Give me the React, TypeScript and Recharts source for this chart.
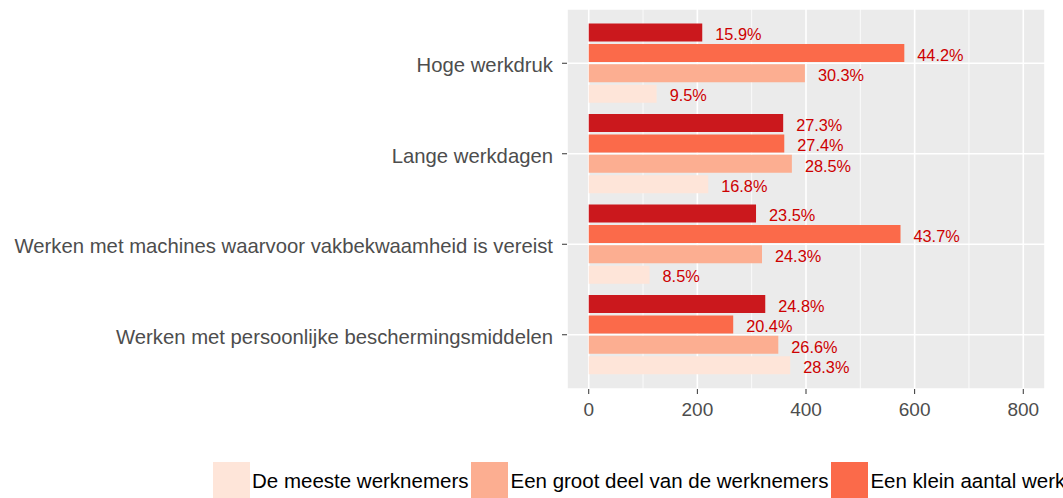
import React from 'react'
import {
  BarChart,
  Bar,
  XAxis,
  YAxis,
  CartesianGrid,
  LabelList,
} from 'recharts'

// categories (top to bottom)
const categories = [
  'Hoge werkdruk',
  'Lange werkdagen',
  'Werken met machines waarvoor vakbekwaamheid is vereist',
  'Werken met persoonlijke beschermingsmiddelen',
]

// counts per answer group
const meeste = [125, 220, 112, 371]
const grootDeel = [398, 374, 319, 349]
const kleinAantal = [581, 360, 574, 266]
const geen = [209, 358, 308, 325]

// percentage labels next to the bars
const meestePct = ['9.5%', '16.8%', '8.5%', '28.3%']
const grootDeelPct = ['30.3%', '28.5%', '24.3%', '26.6%']
const kleinAantalPct = ['44.2%', '27.4%', '43.7%', '20.4%']
const geenPct = ['15.9%', '27.3%', '23.5%', '24.8%']

const xTicks = [0, 200, 400, 600, 800]
const xMinorTicks = [100, 300, 500, 700]

// legend order (ggplot factor order); the fourth entry falls outside the frame
const legendItems = [
  { label: 'De meeste werknemers', color: '#FEE5D9' },
  { label: 'Een groot deel van de werknemers', color: '#FCAE91' },
  { label: 'Een klein aantal werknemers', color: '#FB6A4A' },
]

const data = categories.map((name, i) => ({
  name,
  meeste: meeste[i],
  grootDeel: grootDeel[i],
  kleinAantal: kleinAantal[i],
  geen: geen[i],
  meestePct: meestePct[i],
  grootDeelPct: grootDeelPct[i],
  kleinAantalPct: kleinAantalPct[i],
  geenPct: geenPct[i],
}))

// drawn top to bottom inside each group
const series = [
  { key: 'geen', pct: 'geenPct', color: '#CB181D' },
  { key: 'kleinAantal', pct: 'kleinAantalPct', color: '#FB6A4A' },
  { key: 'grootDeel', pct: 'grootDeelPct', color: '#FCAE91' },
  { key: 'meeste', pct: 'meestePct', color: '#FEE5D9' },
]

const FONT = '"Liberation Sans", Arial, sans-serif'

export default function App() {
  return (
    <div
      style={{
        position: 'absolute',
        left: 0,
        top: 0,
        width: 1063,
        height: 498,
        overflow: 'hidden',
        background: '#fff',
        fontFamily: FONT,
      }}
    >
      <BarChart
        width={1063}
        height={498}
        data={data}
        layout="vertical"
        margin={{ top: 9, right: 18, left: 0, bottom: 79 }}
        barGap={2.4}
        barCategoryGap={5.5}
      >
        <CartesianGrid fill="#EBEBEB" stroke="#FFFFFF" strokeWidth={1.6} />
        <CartesianGrid
          horizontal={false}
          verticalValues={xMinorTicks}
          stroke="#FFFFFF"
          strokeWidth={0.8}
        />
        <XAxis
          type="number"
          domain={[-40, 840]}
          ticks={xTicks}
          allowDataOverflow
          axisLine={false}
          tickSize={5}
          tickMargin={9}
          tickLine={{ stroke: '#333333' }}
          tick={{ fontSize: 19, fill: '#4D4D4D', fontFamily: FONT }}
          height={30}
        />
        <YAxis
          type="category"
          dataKey="name"
          width={567}
          padding={{ top: 9, bottom: 9 }}
          axisLine={false}
          tickSize={5}
          tickMargin={9}
          tickLine={{ stroke: '#333333' }}
          tick={{ fontSize: 20.3, fill: '#4D4D4D', fontFamily: FONT, dy: 2 }}
          interval={0}
        />
        {series.map((s) => (
          <Bar key={s.key} dataKey={s.key} fill={s.color} isAnimationActive={false}>
            <LabelList
              dataKey={s.pct}
              position="right"
              offset={13}
              dy={2}
              fill="#CD0000"
              fontSize={16.3}
              fontFamily={FONT}
            />
          </Bar>
        ))}
      </BarChart>
      <div
        style={{
          position: 'absolute',
          left: 213,
          top: 462,
          display: 'flex',
          alignItems: 'center',
          whiteSpace: 'nowrap',
        }}
      >
        {legendItems.map((item) => (
          <div key={item.label} style={{ display: 'flex', alignItems: 'center' }}>
            <div style={{ width: 37, height: 37, background: item.color, marginRight: 2 }} />
            <span style={{ fontSize: 20.5, color: '#000', marginRight: 3 }}>{item.label}</span>
          </div>
        ))}
      </div>
    </div>
  )
}
